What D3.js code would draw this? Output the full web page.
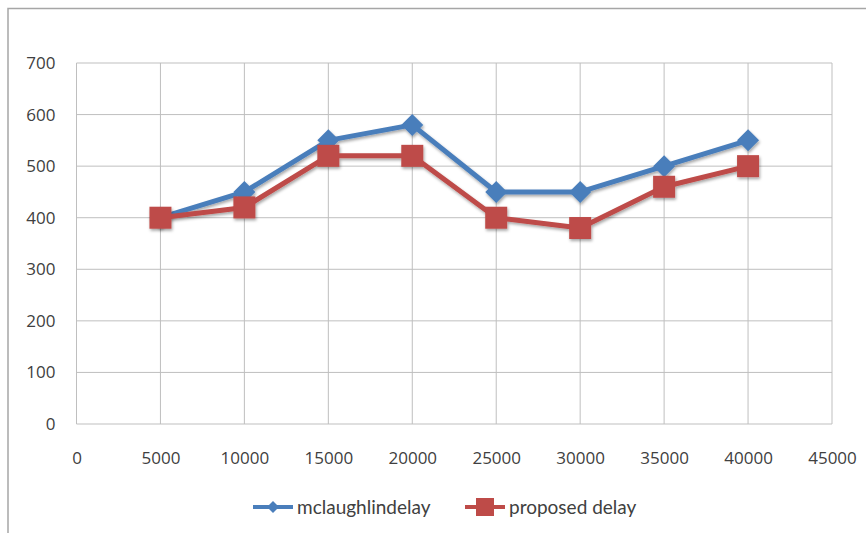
<!DOCTYPE html>
<html lang="en">
<head>
<meta charset="utf-8">
<script src="https://cdn.jsdelivr.net/npm/d3@7"></script>
<style>
  body { margin: 0; background: #fff; }
  svg { display: block; }
</style>
</head>
<body>
<script>
  // data
  const xValues = [5000, 10000, 15000, 20000, 25000, 30000, 35000, 40000]
  const mclaughlin = [400, 450, 550, 580, 450, 450, 500, 550]
  const proposed = [400, 420, 520, 520, 400, 380, 460, 500]
  const seriesNames = ['mclaughlindelay', 'proposed delay']
  const xTicks = [0, 5000, 10000, 15000, 20000, 25000, 30000, 35000, 40000, 45000]
  const yTicks = [0, 100, 200, 300, 400, 500, 600, 700]

  const w = 866
  const h = 533
  const plotLeft = 76.5, plotRight = 832, plotTop = 63, plotBottom = 424

  const svg = d3.select('body')
    .append('svg')
    .attr('width', w)
    .attr('height', h)

  // outer chart frame (runs off the right and bottom of the picture)
  svg.append('rect')
    .attr('x', 8).attr('y', 8.5)
    .attr('width', 900).attr('height', 600)
    .style('fill', 'none')
    .style('stroke', '#a6a6a6')
    .style('stroke-width', 1.5)

  const x = d3.scaleLinear().domain([0, 45000]).range([plotLeft, plotRight])
  const y = d3.scaleLinear().domain([0, 700]).range([plotBottom, plotTop])

  // gridlines
  svg.append('g')
    .selectAll('line')
    .data(yTicks)
    .enter()
    .append('line')
    .attr('x1', plotLeft).attr('x2', plotRight)
    .attr('y1', d => y(d)).attr('y2', d => y(d))
    .style('stroke', '#bfbfbf')
    .style('stroke-width', 1)

  svg.append('g')
    .selectAll('line')
    .data(xTicks)
    .enter()
    .append('line')
    .attr('x1', d => x(d)).attr('x2', d => x(d))
    .attr('y1', plotTop).attr('y2', plotBottom)
    .style('stroke', '#bfbfbf')
    .style('stroke-width', 1)

  // axis labels
  const yAxis = svg.append('g')
    .attr('transform', 'translate(' + (plotLeft - 18) + ',0)')
    .call(d3.axisLeft(y).tickValues(yTicks).tickSize(0).tickFormat(d3.format('d')))
  const xAxis = svg.append('g')
    .attr('transform', 'translate(0,' + (plotBottom + 25) + ')')
    .call(d3.axisBottom(x).tickValues(xTicks).tickSize(0).tickFormat(d3.format('d')))
  ;[xAxis, yAxis].forEach(function(a) {
    a.select('.domain').remove()
    a.selectAll('text')
      .style('font-family', '"Open Sans", sans-serif')
      .style('font-size', '17px')
      .style('fill', '#404040')
  })

  const line = d3.line()
    .x(d => x(d[0]))
    .y(d => y(d[1]))

  const blue = '#4a7ebb'
  const red = '#be4b48'

  const shadow = svg.append('defs').append('filter')
    .attr('id', 'shadow')
    .attr('x', '-20%').attr('y', '-20%').attr('width', '140%').attr('height', '140%')
  shadow.append('feDropShadow')
    .attr('dx', 1).attr('dy', 2).attr('stdDeviation', 1.5)
    .attr('flood-color', '#000').attr('flood-opacity', 0.35)

  function drawSeries(values, color, marker) {
    const pts = xValues.map((v, i) => [v, values[i]])
    const g = svg.append('g').attr('filter', 'url(#shadow)')
    g.append('path')
      .datum(pts)
      .attr('d', line)
      .style('fill', 'none')
      .style('stroke', color)
      .style('stroke-width', 5)
      .style('stroke-linejoin', 'round')
    g.selectAll('path.m')
      .data(pts)
      .enter()
      .append('path')
      .attr('class', 'm')
      .attr('d', marker)
      .attr('transform', d => 'translate(' + x(d[0]) + ',' + y(d[1]) + ')')
      .style('fill', color)
  }

  const diamond = 'M0,-11L11,0L0,11L-11,0Z'
  const square = 'M-11,-11H11V11H-11Z'
  drawSeries(mclaughlin, blue, diamond)
  drawSeries(proposed, red, square)

  // legend
  const legend = [
    {name: seriesNames[0], color: blue, x0: 253, marker: 'M0,-6L6,0L0,6L-6,0Z'},
    {name: seriesNames[1], color: red, x0: 465, marker: 'M-9,-9H9V9H-9Z'}
  ]
  const lg = svg.selectAll('g.legend')
    .data(legend)
    .enter()
    .append('g')
    .attr('class', 'legend')
    .attr('transform', d => 'translate(' + d.x0 + ',507)')
  lg.append('line')
    .attr('x1', 0).attr('x2', 40)
    .style('stroke', d => d.color)
    .style('stroke-width', 4)
  lg.append('path')
    .attr('d', d => d.marker)
    .attr('transform', 'translate(20,0)')
    .style('fill', d => d.color)
  lg.append('text')
    .attr('x', 44)
    .attr('y', 6.5)
    .text(d => d.name)
    .style('font-family', 'Lato, sans-serif')
    .style('font-size', '19px')
    .style('fill', '#404040')
</script>
</body>
</html>
